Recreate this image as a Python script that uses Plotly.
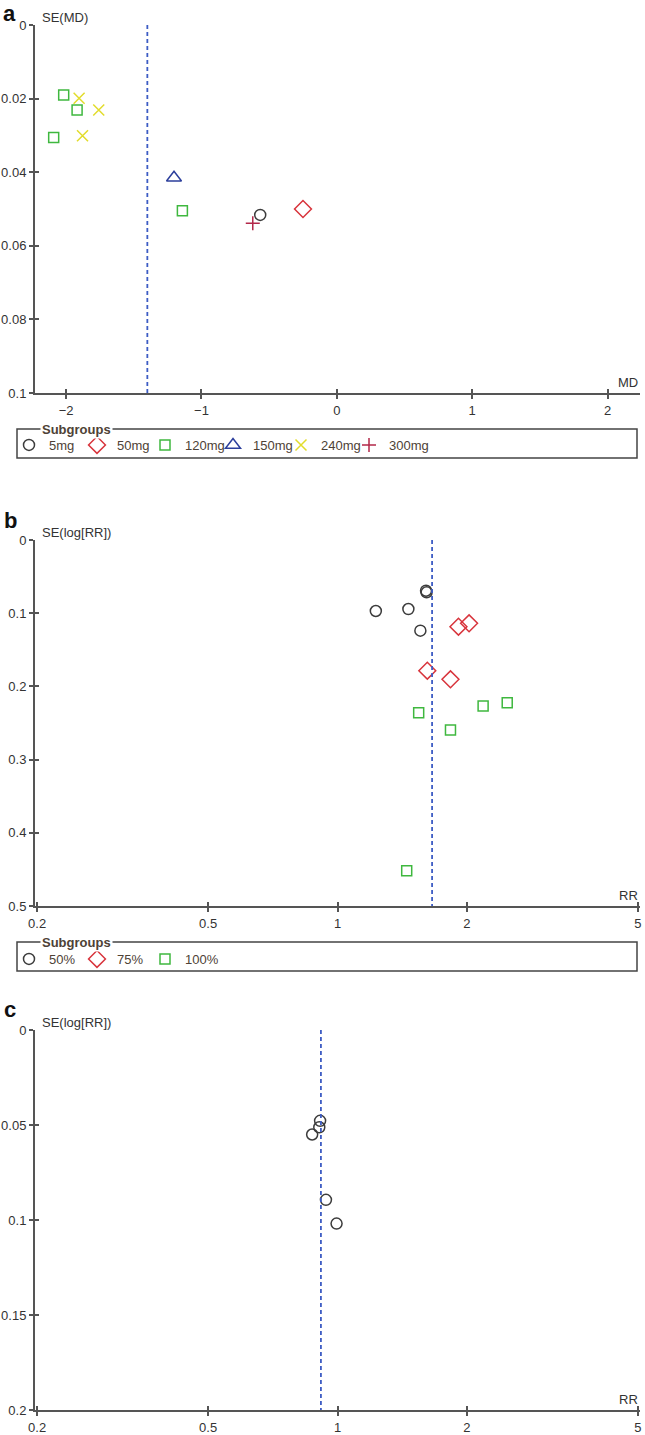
import numpy as np
import plotly.graph_objects as go

W, H = 645, 1435

# ---- panel a: MD vs SE(MD), subgroups by dose ----
a_groups = ["5mg", "50mg", "120mg", "150mg", "240mg", "300mg"]
a_md = {
    "5mg": [-0.566],
    "50mg": [-0.25],
    "120mg": [-2.018, -1.919, -2.092, -1.141],
    "150mg": [-1.203],
    "240mg": [-1.904, -1.759, -1.879],
    "300mg": [-0.621],
}
a_se = {
    "5mg": [0.0516],
    "50mg": [0.0500],
    "120mg": [0.0190, 0.0231, 0.0306, 0.0505],
    "150mg": [0.0415],
    "240mg": [0.0199, 0.0231, 0.0301],
    "300mg": [0.0539],
}
a_pooled = -1.40
a_xticks = [-2, -1, 0, 1, 2]
a_yticks = [0, 0.02, 0.04, 0.06, 0.08, 0.1]

# ---- panel b: RR vs SE(log RR), subgroups by percentage ----
b_groups = ["50%", "75%", "100%"]
b_rr = {
    "50%": [1.607, 1.612, 1.228, 1.462, 1.559],
    "75%": [1.912, 2.024, 1.618, 1.832],
    "100%": [1.545, 2.182, 2.483, 1.832, 1.449],
}
b_se = {
    "50%": [0.0693, 0.0715, 0.0970, 0.0943, 0.1239],
    "75%": [0.1184, 0.1138, 0.1785, 0.1903],
    "100%": [0.2360, 0.2268, 0.2223, 0.2596, 0.4520],
}
b_pooled = 1.66
b_yticks = [0, 0.1, 0.2, 0.3, 0.4, 0.5]

# ---- panel c: RR vs SE(log RR) ----
c_rr = [0.911, 0.907, 0.873, 0.940, 0.995]
c_se = [0.0478, 0.0512, 0.0550, 0.0894, 0.1019]
c_pooled = 0.915
c_yticks = [0, 0.05, 0.1, 0.15, 0.2]

rr_ticks = [0.2, 0.5, 1, 2, 5]
rr_ticktext = ["0.2", "0.5", "1", "2", "5"]

styles = {
    "5mg": dict(symbol="circle-open", color="#3c3c3c", size=11),
    "50mg": dict(symbol="diamond-open", color="#d8343c", size=13),
    "120mg": dict(symbol="square-open", color="#3fb83f", size=10),
    "150mg": dict(symbol="triangle-up-open", color="#2c3f9c", size=13),
    "240mg": dict(symbol="x-thin-open", color="#e2dc2c", size=11),
    "300mg": dict(symbol="cross-thin-open", color="#b3284a", size=10),
    "50%": dict(symbol="circle-open", color="#3c3c3c", size=11),
    "75%": dict(symbol="diamond-open", color="#d8343c", size=13),
    "100%": dict(symbol="square-open", color="#3fb83f", size=10),
}

FONT = "Arial, 'Liberation Sans', sans-serif"
AXIS_COL = "#555555"
TXT_COL = "#333333"
LEG_COL = "#4e4236"
DASH_COL = "#3d5cc4"


def mk(name):
    s = styles[name]
    return dict(symbol=s["symbol"], size=s["size"], color=s["color"],
                line=dict(color=s["color"], width=1.5))


fig = go.Figure()

# panel a
for g in a_groups:
    fig.add_trace(go.Scatter(x=a_md[g], y=a_se[g], mode="markers", name=g,
                             marker=mk(g), xaxis="x", yaxis="y", legend="legend"))
fig.add_trace(go.Scatter(x=[a_pooled, a_pooled], y=[0, a_yticks[-1]], mode="lines",
                         line=dict(color=DASH_COL, width=1.8, dash="4px,3px"),
                         showlegend=False, xaxis="x", yaxis="y"))

# panel b
for g in b_groups:
    fig.add_trace(go.Scatter(x=b_rr[g], y=b_se[g], mode="markers", name=g,
                             marker=mk(g), xaxis="x2", yaxis="y2", legend="legend2"))
fig.add_trace(go.Scatter(x=[b_pooled, b_pooled], y=[0, b_yticks[-1]], mode="lines",
                         line=dict(color=DASH_COL, width=1.8, dash="4px,3px"),
                         showlegend=False, xaxis="x2", yaxis="y2"))

# panel c
fig.add_trace(go.Scatter(x=c_rr, y=c_se, mode="markers", marker=mk("50%"),
                         showlegend=False, xaxis="x3", yaxis="y3"))
fig.add_trace(go.Scatter(x=[c_pooled, c_pooled], y=[0, c_yticks[-1]], mode="lines",
                         line=dict(color=DASH_COL, width=1.8, dash="4px,3px"),
                         showlegend=False, xaxis="x3", yaxis="y3"))

# blank legend entries so the last real label is not clipped by the fixed entry width
for lg, xa, ya in [("legend", "x", "y"), ("legend2", "x2", "y2")]:
    fig.add_trace(go.Scatter(x=[None], y=[None], mode="markers", name=" ",
                             marker=dict(color="rgba(0,0,0,0)", size=1),
                             hoverinfo="skip", xaxis=xa, yaxis=ya, legend=lg))

# empty traces on overlay axes (inner half of the crossing tick marks)
for k in (4, 5, 6):
    fig.add_trace(go.Scatter(x=[], y=[], showlegend=False, hoverinfo="skip",
                             xaxis=f"x{k}", yaxis=f"y{k}"))

xdom = [35 / W, 640 / W]


def ydom(top, bottom):
    return [1 - bottom / H, 1 - top / H]


tickfont = dict(family=FONT, size=13, color=TXT_COL)
base = dict(showgrid=False, zeroline=False, showline=True, linecolor=AXIS_COL,
            linewidth=2, ticks="outside", ticklen=4, tickwidth=1.5, tickcolor=AXIS_COL,
            tickfont=tickfont, fixedrange=True, automargin=False)
inner = dict(showgrid=False, zeroline=False, showline=False, ticks="inside", ticklen=4,
             tickwidth=1.5, tickcolor=AXIS_COL, showticklabels=False, fixedrange=True,
             automargin=False)

log_rng = [np.log10(0.2) - 0.005, np.log10(5) + 0.005]
a_xrng = [-2.23, 2.24]

fig.update_layout(
    xaxis=dict(base, domain=xdom, anchor="y", range=a_xrng, tickvals=a_xticks),
    yaxis=dict(base, domain=ydom(25, 393), anchor="x", range=[0.1, 0], tickvals=a_yticks,
               ticktext=[f"{v:g}" for v in a_yticks]),
    xaxis2=dict(base, domain=xdom, anchor="y2", type="log", range=log_rng,
                tickvals=rr_ticks, ticktext=rr_ticktext),
    yaxis2=dict(base, domain=ydom(540, 906), anchor="x2", range=[0.5, 0], tickvals=b_yticks,
                ticktext=[f"{v:g}" for v in b_yticks]),
    xaxis3=dict(base, domain=xdom, anchor="y3", type="log", range=log_rng,
                tickvals=rr_ticks, ticktext=rr_ticktext),
    yaxis3=dict(base, domain=ydom(1030, 1410), anchor="x3", range=[0.2, 0], tickvals=c_yticks,
                ticktext=[f"{v:g}" for v in c_yticks]),
    xaxis4=dict(inner, overlaying="x", anchor="y", range=a_xrng, tickvals=a_xticks),
    yaxis4=dict(inner, overlaying="y", anchor="x", range=[0.1, 0], tickvals=a_yticks),
    xaxis5=dict(inner, overlaying="x2", anchor="y2", type="log", range=log_rng, tickvals=rr_ticks),
    yaxis5=dict(inner, overlaying="y2", anchor="x2", range=[0.5, 0], tickvals=b_yticks),
    xaxis6=dict(inner, overlaying="x3", anchor="y3", type="log", range=log_rng, tickvals=rr_ticks),
    yaxis6=dict(inner, overlaying="y3", anchor="x3", range=[0.2, 0], tickvals=c_yticks),
)

leg = dict(orientation="h", xanchor="left", yanchor="middle", bgcolor="rgba(0,0,0,0)",
           borderwidth=0, font=dict(family=FONT, size=13, color=LEG_COL),
           entrywidth=23, entrywidthmode="pixels", itemwidth=30, itemclick=False,
           itemdoubleclick=False)
fig.update_layout(
    legend=dict(leg, x=9 / W, y=1 - 445 / H),
    legend2=dict(leg, x=9 / W, y=1 - 959 / H),
)

# legend frames with the "Subgroups" caption sitting on the top border
for top, bottom in [(429, 458), (942, 971)]:
    fig.add_shape(type="rect", xref="paper", yref="paper", x0=17 / W, x1=637 / W,
                  y0=1 - bottom / H, y1=1 - top / H, line=dict(color="#444444", width=1.5))
    fig.add_annotation(text="<b>Subgroups</b>", xref="paper", yref="paper", x=40 / W,
                       y=1 - top / H, xanchor="left", yanchor="middle", showarrow=False,
                       bgcolor="white", borderpad=1,
                       font=dict(family=FONT, size=13, color=LEG_COL))

# axis captions
for ya, xa, ytxt, xtxt in [("y", "x", "SE(MD)", "MD"), ("y2", "x2", "SE(log[RR])", "RR"),
                           ("y3", "x3", "SE(log[RR])", "RR")]:
    fig.add_annotation(text=ytxt, xref=f"{xa} domain", yref=f"{ya} domain", x=0, y=1,
                       xanchor="left", yanchor="bottom", xshift=5, yshift=-2, showarrow=False,
                       font=dict(family=FONT, size=13, color=TXT_COL))
    fig.add_annotation(text=xtxt, xref=f"{xa} domain", yref=f"{ya} domain", x=1, y=0,
                       xanchor="right", yanchor="bottom", yshift=1, showarrow=False,
                       font=dict(family=FONT, size=13, color=TXT_COL))

# panel letters
fig.add_annotation(text="<b>a</b>", xref="paper", yref="paper", x=2 / W, y=1,
                   xanchor="left", yanchor="top", showarrow=False, borderpad=0,
                   font=dict(family=FONT, size=22, color="#111111"))
for lab, base_y in [("b", 528), ("c", 1017)]:
    fig.add_annotation(text=f"<b>{lab}</b>", xref="paper", yref="paper", x=2 / W,
                       y=1 - (base_y + 7) / H, xanchor="left", yanchor="bottom",
                       showarrow=False, font=dict(family=FONT, size=22, color="#111111"))

fig.update_layout(
    width=W, height=H,
    margin=dict(l=0, r=0, t=0, b=0, pad=0, autoexpand=False),
    paper_bgcolor="white", plot_bgcolor="white",
    font=dict(family=FONT, color=TXT_COL),
)

# drop the browser's default body margin so the figure sits at the page origin
fig.write_html("out.html", config={"displayModeBar": False},
               post_script="document.body.style.margin='0';document.body.style.overflow='hidden';")
